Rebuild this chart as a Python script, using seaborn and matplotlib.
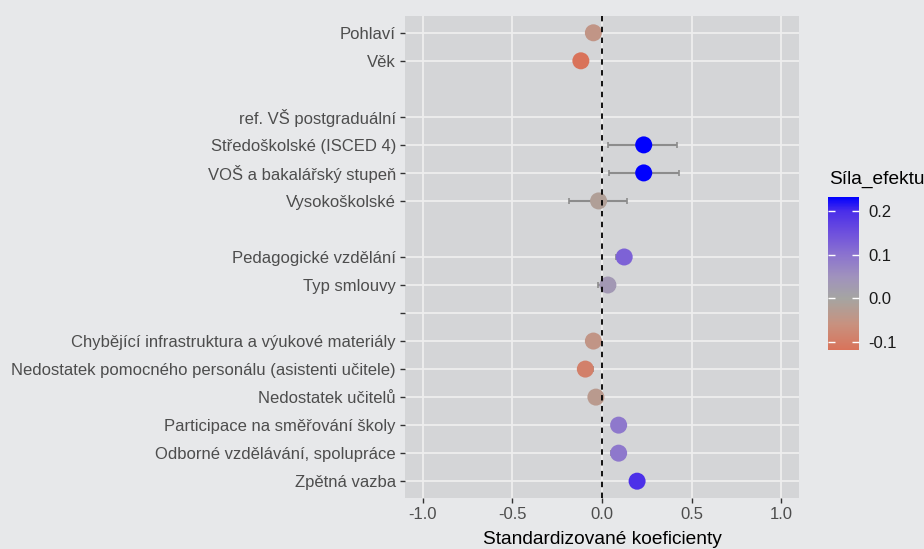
#Forest plot of standardized coefficients
import numpy as np
import pandas as pd
import matplotlib
matplotlib.use('Agg')
import matplotlib.pyplot as plt
import seaborn as sns
from matplotlib.colors import LinearSegmentedColormap, Normalize
from matplotlib.cm import ScalarMappable

#rows top to bottom, None = empty gap row without tick
labels = ['Pohlaví', 'Věk', None, 'ref. VŠ postgraduální',
          'Středoškolské (ISCED 4)', 'VOŠ a bakalářský stupeň', 'Vysokoškolské', None,
          'Pedagogické vzdělání', 'Typ smlouvy', '',
          'Chybějící infrastruktura a výukové materiály',
          'Nedostatek pomocného personálu (asistenti učitele)',
          'Nedostatek učitelů', 'Participace na směřování školy',
          'Odborné vzdělávání, spolupráce', 'Zpětná vazba']
coef = [-0.048, -0.118, np.nan, np.nan, 0.233, 0.233, -0.019, np.nan,
        0.124, 0.033, np.nan, -0.048, -0.093, -0.034, 0.093, 0.093, 0.196]
lower = [-0.075, -0.152, np.nan, np.nan, 0.033, 0.041, -0.182, np.nan,
         0.080, -0.020, np.nan, -0.075, -0.130, -0.060, 0.070, 0.050, 0.170]
upper = [-0.020, -0.085, np.nan, np.nan, 0.419, 0.428, 0.139, np.nan,
         0.160, 0.070, np.nan, -0.020, -0.052, -0.010, 0.120, 0.120, 0.225]

#colour scale (Síla_efektu)
effect_stops = [-0.118, -0.06, 0.0, 0.05, 0.1, 0.15, 0.2, 0.233]
effect_colors = ['#d9735a', '#c8917f', '#a5a5a2', '#a092bd', '#8b73cf',
                 '#6e50dd', '#4a2ee9', '#0000ff']
cbar_ticks = [-0.1, 0.0, 0.1, 0.2]
x_ticks = [-1.0, -0.5, 0.0, 0.5, 1.0]

bg = '#e7e8ea'
panel = '#d4d5d7'
plt.rcParams['font.family'] = ['Liberation Sans', 'DejaVu Sans']

df = pd.DataFrame({'row': range(len(labels)), 'coef': coef, 'lower': lower, 'upper': upper})
vmin, vmax = effect_stops[0], effect_stops[-1]
norm = Normalize(vmin=vmin, vmax=vmax)
cmap = LinearSegmentedColormap.from_list(
    'sila', [((v - vmin) / (vmax - vmin), c) for v, c in zip(effect_stops, effect_colors)])

fig = plt.figure(figsize=(9.24, 5.49), dpi=100, facecolor=bg)
ax = fig.add_axes([0.4383, 0.0929, 0.4264, 0.878])
ax.set_facecolor(panel)
ax.set_axisbelow(True)

pts = df.dropna(subset=['coef'])
ax.errorbar(pts['coef'], pts['row'],
            xerr=[pts['coef'] - pts['lower'], pts['upper'] - pts['coef']],
            fmt='none', ecolor='#8c8c8c', elinewidth=1.5, capsize=2.5, capthick=1.2, zorder=2)
sns.scatterplot(data=pts, x='coef', y='row', hue='coef', palette=cmap, hue_norm=norm,
                s=150, linewidth=0, legend=False, ax=ax, zorder=3)
ax.axvline(0, color='black', lw=1.3, linestyle=(0, (3, 3)), zorder=4)

#axes
tick_rows = [i for i, l in enumerate(labels) if l is not None]
ax.set_yticks(tick_rows)
ax.set_yticklabels([labels[i] for i in tick_rows])
ax.set_ylim(len(labels) - 0.4, -0.6)
ax.set_xlim(-1.1, 1.1)
ax.set_xticks(x_ticks)
ax.set_xticklabels(['%.1f' % t for t in x_ticks])
ax.grid(True, color='#eeeeee', lw=1.3)
for s in ax.spines.values():
    s.set_visible(False)
ax.tick_params(axis='both', colors='#333333', labelcolor='#4d4d4d', labelsize=12,
               length=3.5, width=1, pad=3)
ax.set_xlabel('')
ax.set_ylabel('')
fig.text(0.6515, 0.009, 'Standardizované koeficienty', ha='center', va='baseline',
         fontsize=13.8, color='black')

#colour bar legend
cax = fig.add_axes([0.8965, 0.3625, 0.0335, 0.2792])
cb = fig.colorbar(ScalarMappable(norm=norm, cmap=cmap), cax=cax, ticks=cbar_ticks)
cb.outline.set_visible(False)
cax.tick_params(direction='in', color='white', length=5, width=1, left=True, right=True,
                labelleft=False, labelsize=12, labelcolor='#1a1a1a', pad=6.5)
cax.set_yticklabels(['%.1f' % t for t in cbar_ticks])
fig.text(0.897, 0.657, 'Síla_efektu', ha='left', va='bottom', fontsize=13.8, color='black')

fig.savefig('out.png', dpi=100, facecolor=bg)
